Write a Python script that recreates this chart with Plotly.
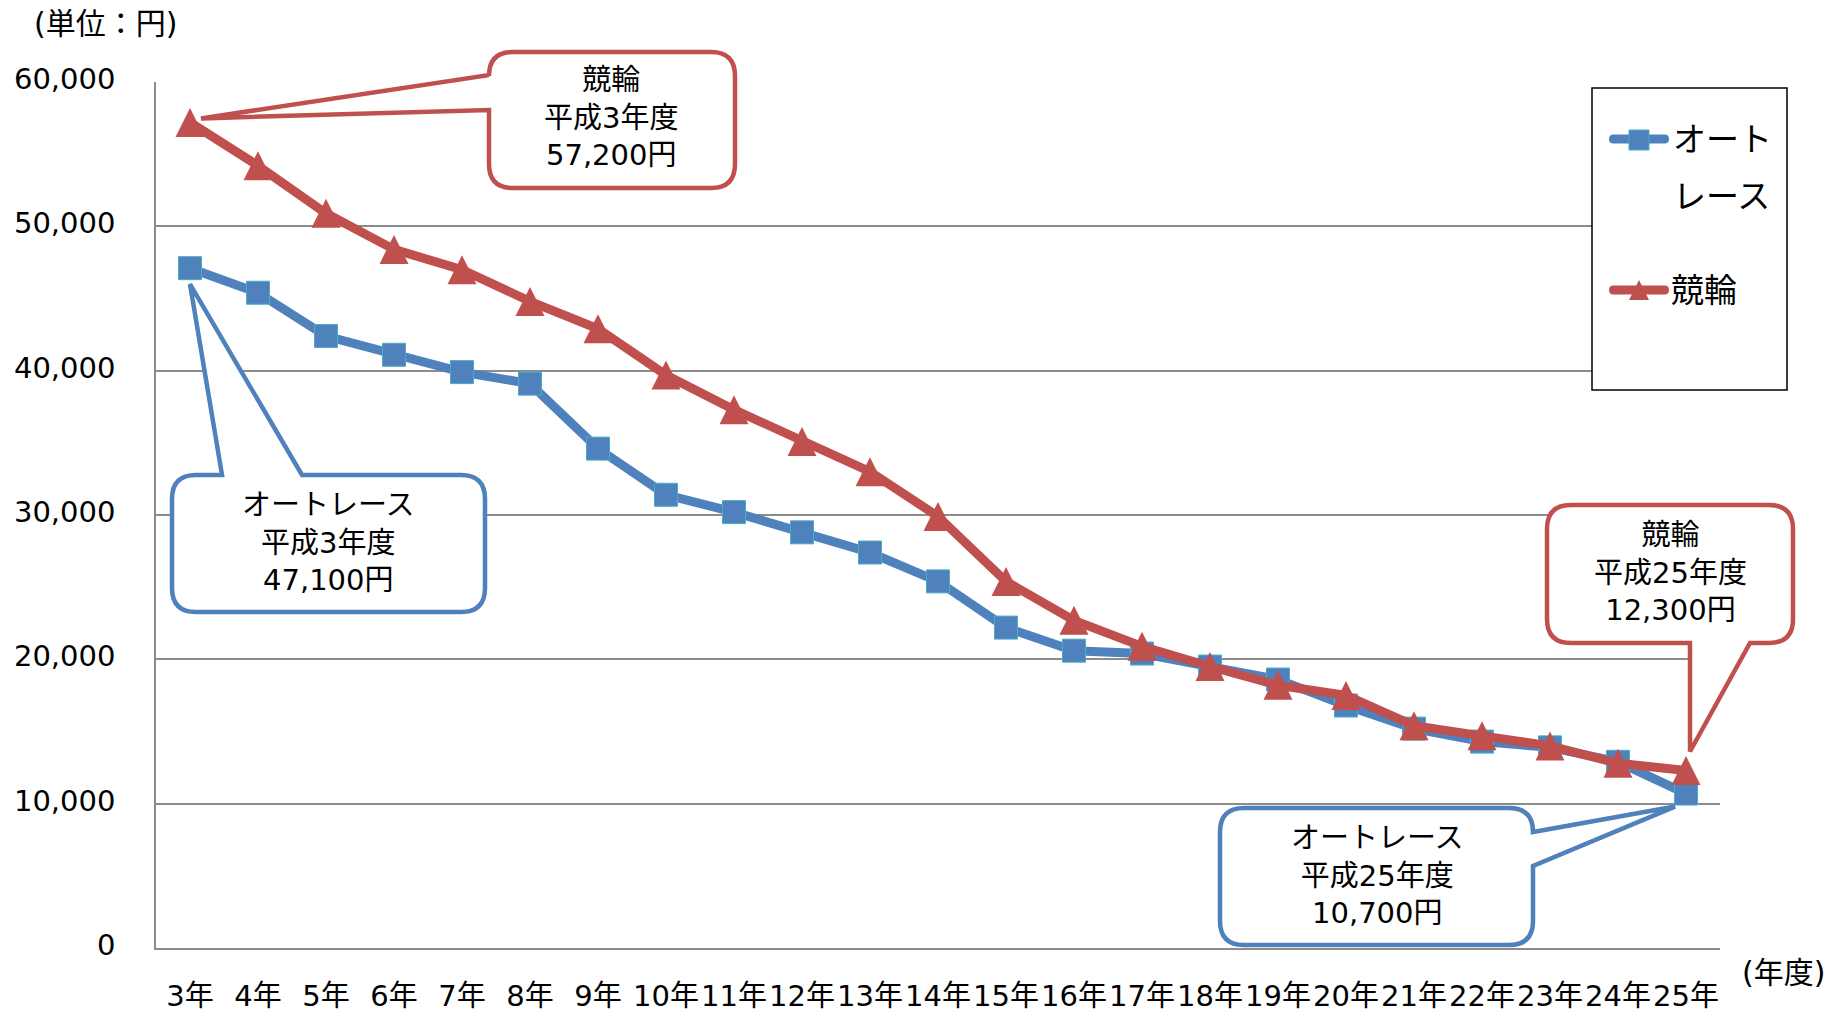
import plotly.graph_objects as go

# ---- data -------------------------------------------------------------
categories = ["3年", "4年", "5年", "6年", "7年", "8年", "9年", "10年", "11年",
              "12年", "13年", "14年", "15年", "16年", "17年", "18年", "19年",
              "20年", "21年", "22年", "23年", "24年", "25年"]

auto_race = [47100, 45400, 42400, 41100, 39900, 39100, 34600, 31400, 30200,
             28800, 27400, 25400, 22200, 20600, 20400, 19500, 18600, 16800,
             15200, 14300, 13900, 12900, 10700]

keirin = [57200, 54200, 50900, 48400, 47000, 44800, 42900, 39700, 37300,
          35100, 33000, 29900, 25400, 22700, 20900, 19500, 18200, 17500,
          15400, 14700, 14000, 12800, 12300]

y_ticks = [0, 10000, 20000, 30000, 40000, 50000, 60000]

series_names = ["オートレース", "競輪"]

# ---- layout geometry ---------------------------------------------------
W, H = 1831, 1018
ML, MR, MT, MB = 156, 111, 82, 70
PW, PH = W - ML - MR, H - MT - MB
X_RANGE = [-0.5, len(categories) - 0.5]
Y_RANGE = [0, 60000]

BLUE = "#4F81BD"
RED = "#C0504D"
EDGE = "#4BACC6"
FONT = "DejaVu Sans, Noto Sans CJK JP, sans-serif"

TRI_SIZE = 29
SQ_SIZE = 23
LINE_W = 9


def to_px(i, v):
    """Category index / value -> pixel position on the page."""
    px = ML + (i - X_RANGE[0]) / (X_RANGE[1] - X_RANGE[0]) * PW
    py = H - MB - (v - Y_RANGE[0]) / (Y_RANGE[1] - Y_RANGE[0]) * PH
    return px, py


def px2paper(px, py):
    return (px - ML) / PW, (H - MB - py) / PH


def path_str(segments):
    out = []
    for cmd, coords in segments:
        out.append(cmd + " ".join("%.5f,%.5f" % px2paper(x, y) for x, y in coords))
    return " ".join(out) + " Z"


def callout_path(box, side, base, tip, r=24):
    """Rounded speech-bubble outline; box=(left, top, right, bottom) in px."""
    L, T, R, B = box
    a, b = base
    seg = [("M", [(L + r, T)])]
    ln = lambda x, y: seg.append(("L", [(x, y)]))
    q = lambda cx, cy, x, y: seg.append(("Q", [(cx, cy), (x, y)]))

    if side == "top":
        ln(a, T); ln(*tip); ln(b, T)
    ln(R - r, T); q(R, T, R, T + r)
    if side == "right":
        ln(R, a); ln(*tip); ln(R, b)
    ln(R, B - r); q(R, B, R - r, B)
    if side == "bottom":
        ln(b, B); ln(*tip); ln(a, B)
    ln(L + r, B); q(L, B, L, B - r)
    if side == "left":
        ln(L, b); ln(*tip); ln(L, a)
    ln(L, T + r); q(L, T, L + r, T)
    return path_str(seg)


def stadium_path(x1, x2, y, h):
    """Thick line sample with rounded ends."""
    return path_str([
        ("M", [(x1, y - h)]), ("L", [(x2, y - h)]),
        ("Q", [(x2 + h, y - h), (x2 + h, y)]), ("Q", [(x2 + h, y + h), (x2, y + h)]),
        ("L", [(x1, y + h)]),
        ("Q", [(x1 - h, y + h), (x1 - h, y)]), ("Q", [(x1 - h, y - h), (x1, y - h)]),
    ])


fig = go.Figure()

fig.add_trace(go.Scatter(
    x=categories, y=auto_race, name=series_names[0],
    mode="lines+markers", showlegend=False,
    line=dict(color=BLUE, width=LINE_W),
    marker=dict(symbol="square", size=SQ_SIZE, color=BLUE,
                line=dict(color=EDGE, width=1)),
))
# upward triangle of equal width and height, centred on each point
fig.add_trace(go.Scatter(
    x=categories, y=keirin, name=series_names[1],
    mode="lines+markers", showlegend=False,
    line=dict(color=RED, width=LINE_W),
    marker=dict(symbol="arrow-down", angle=180, standoff=TRI_SIZE / 2,
                size=TRI_SIZE, color=RED, line=dict(width=0)),
))

# ---- callouts ----------------------------------------------------------
last = len(categories) - 1
era = lambda c: "平成" + c.replace("年", "") + "年度"

callouts = [
    # (colour, box px, side, wedge base px, data point, tip offset px, text centre px, text)
    (RED, (489, 52, 735, 188), "left", (75, 110), to_px(0, keirin[0]), (11, -4),
     (611, 118), "%s<br>%s<br>%s円" % (series_names[1], era(categories[0]), f"{keirin[0]:,}")),
    (BLUE, (172, 475, 485, 612), "top", (222, 302), to_px(0, auto_race[0]), (0, 16),
     (328, 542), "%s<br>%s<br>%s円" % (series_names[0], era(categories[0]), f"{auto_race[0]:,}")),
    (RED, (1547, 505, 1793, 643), "bottom", (1690, 1750), to_px(last, keirin[last]), (4, -19),
     (1670, 572), "%s<br>%s<br>%s円" % (series_names[1], era(categories[last]), f"{keirin[last]:,}")),
    (BLUE, (1220, 808, 1533, 945), "right", (832, 866), to_px(last, auto_race[last]), (-11, 13),
     (1377, 875), "%s<br>%s<br>%s円" % (series_names[0], era(categories[last]), f"{auto_race[last]:,}")),
]

shapes = []
annotations = []
for color, box, side, base, pt, off, tc, text in callouts:
    tip = (pt[0] + off[0], pt[1] + off[1])
    shapes.append(dict(
        type="path", xref="paper", yref="paper",
        path=callout_path(box, side, base, tip),
        line=dict(color=color, width=4.5), fillcolor="white", layer="above",
    ))
    tx, ty = px2paper(*tc)
    annotations.append(dict(
        x=tx, y=ty, xref="paper", yref="paper", text=text, showarrow=False,
        xanchor="center", yanchor="middle", align="center",
        font=dict(size=29, color="black", family=FONT),
    ))


def text_at(px, py, text, size, anchor="center"):
    x, y = px2paper(px, py)
    annotations.append(dict(x=x, y=y, xref="paper", yref="paper", text=text,
                            showarrow=False, xanchor=anchor, yanchor="middle",
                            font=dict(size=size, color="black", family=FONT)))


text_at(105, 23, "(単位：円)", 30)
text_at(1783, 972, "(年度)", 30)

# ---- legend box --------------------------------------------------------
lx0, ly0 = px2paper(1592, 88)
lx1, ly1 = px2paper(1787, 390)
shapes.append(dict(type="rect", xref="paper", yref="paper",
                   x0=lx0, y0=ly1, x1=lx1, y1=ly0,
                   line=dict(color="black", width=1.5), fillcolor="white",
                   layer="above"))

# オートレース entry
shapes.append(dict(type="path", xref="paper", yref="paper",
                   path=stadium_path(1613.5, 1664.5, 139, 4.5),
                   fillcolor=BLUE, line=dict(width=0), layer="above"))
sx0, sy0 = px2paper(1629, 130)
sx1, sy1 = px2paper(1649, 150)
shapes.append(dict(type="rect", xref="paper", yref="paper",
                   x0=sx0, y0=sy1, x1=sx1, y1=sy0, fillcolor=BLUE,
                   line=dict(color=EDGE, width=1), layer="above"))
text_at(1671, 139, series_names[0][:3], 33, "left")
text_at(1671, 197, series_names[0][3:], 33, "left")

# 競輪 entry
shapes.append(dict(type="path", xref="paper", yref="paper",
                   path=stadium_path(1613.5, 1664.5, 290, 4.5),
                   fillcolor=RED, line=dict(width=0), layer="above"))
shapes.append(dict(type="path", xref="paper", yref="paper",
                   path=path_str([("M", [(1639, 280)]), ("L", [(1649, 300)]),
                                  ("L", [(1629, 300)])]),
                   fillcolor=RED, line=dict(width=0), layer="above"))
text_at(1669, 290, series_names[1], 33, "left")

fig.update_layout(
    width=W, height=H,
    margin=dict(l=ML, r=MR, t=MT, b=MB, pad=0),
    paper_bgcolor="white", plot_bgcolor="white",
    font=dict(family=FONT, size=29, color="black"),
    showlegend=False,
    shapes=shapes, annotations=annotations,
)

fig.update_xaxes(
    type="category", range=X_RANGE, showgrid=False, automargin=False,
    showline=True, linecolor="#8C8C8C", linewidth=1.5,
    ticks="", tickfont=dict(size=29, family=FONT, color="black"),
    ticklabelstandoff=21,
)
fig.update_yaxes(
    range=Y_RANGE, tickvals=y_ticks, tickformat=",", automargin=False,
    showgrid=True, gridcolor="#8C8C8C", gridwidth=1.5, zeroline=False,
    showline=True, linecolor="#8C8C8C", linewidth=1.5,
    ticks="", tickfont=dict(size=29, family=FONT, color="black"),
    ticklabelstandoff=33, ticklabelshift=-3,
)

fig.write_html("out.html")
